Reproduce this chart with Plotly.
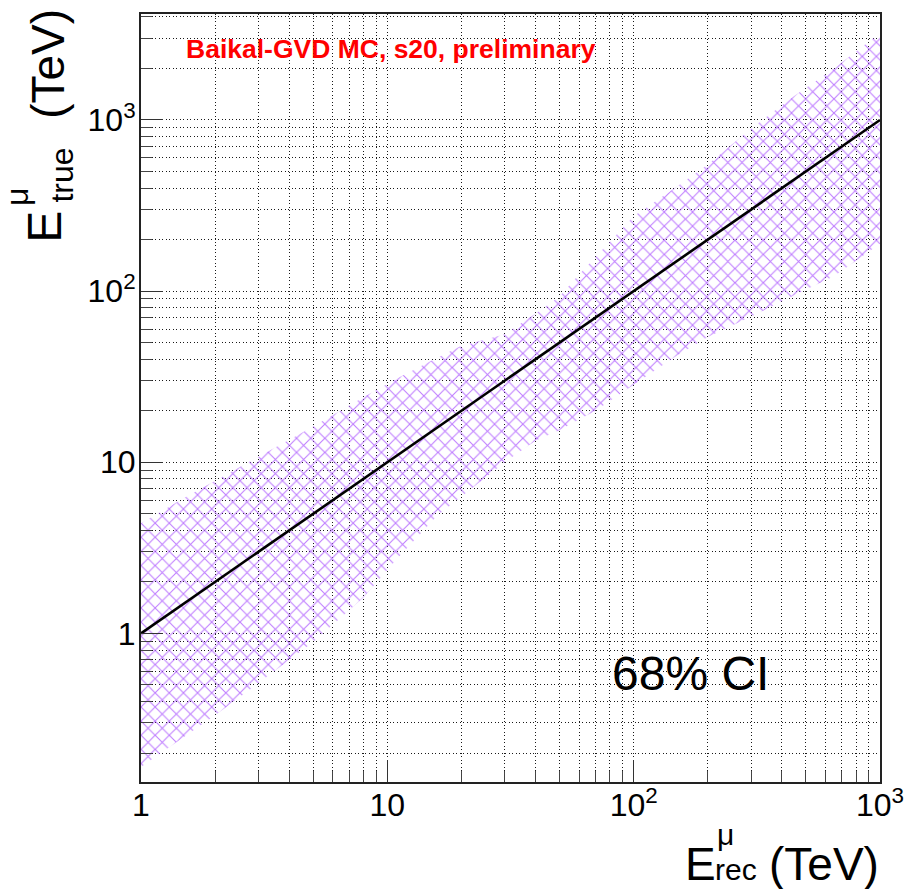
import plotly.graph_objects as go

# ---------------- data ----------------
E_rec = [1, 1.5, 2, 3, 5, 8, 11, 16, 20, 30, 40, 50, 60, 70, 100, 150, 200, 300, 450, 650, 1000]
E_true_hi = [4.4, 6.2, 7.8, 10.8, 16.2, 24, 31, 41, 48, 56, 74, 93, 125, 158, 274, 409, 550, 891, 1387, 1995, 3220]
E_true_lo = [0.166, 0.248, 0.333, 0.513, 0.89, 1.62, 2.75, 4.9, 6.3, 10, 13.4, 15.4, 17.8, 20, 28.4, 42, 54, 71, 95, 122, 189]
line_x = [1, 1000]
line_y = [1, 1000]

tick_vals = [1, 10, 100, 1000]
tick_text = ["1", "10", "10<sup>2</sup>", "10<sup>3</sup>"]
minor_x = [m * d for d in (1, 10, 100) for m in range(2, 10)]
minor_y = [m * d for d in (0.1, 1, 10, 100, 1000) for m in range(2, 10)]

# ---------------- layout geometry ----------------
W, H = 916, 889
L, R, T, B = 141, 29, 13, 107
PW, PH = W - L - R, H - T - B
FONT = "Liberation Sans, Arial, Helvetica, sans-serif"


def pp(px, py):
    return (px - L) / PW, (H - B - py) / PH


fig = go.Figure()

fig.add_trace(go.Scatter(
    x=E_rec, y=E_true_lo, mode="lines", line=dict(width=0, color="rgba(0,0,0,0)"),
    showlegend=False, hoverinfo="skip"))
fig.add_trace(go.Scatter(
    x=E_rec, y=E_true_hi, mode="lines", line=dict(width=0, color="rgba(0,0,0,0)"),
    fill="tonexty", fillcolor="rgba(0,0,0,0)",
    fillpattern=dict(shape="x", fgcolor="rgb(178,100,255)", bgcolor="rgba(0,0,0,0)",
                     fgopacity=0.85, size=10, solidity=0.2),
    showlegend=False, hoverinfo="skip"))
fig.add_trace(go.Scatter(
    x=line_x, y=line_y, mode="lines", line=dict(width=2.6, color="black"),
    showlegend=False))

grid_kw = dict(showgrid=True, gridcolor="rgba(0,0,0,0.9)", gridwidth=1, griddash="1px,2.5px")

fig.update_xaxes(
    type="log", range=[0, 3],
    tickmode="array", tickvals=tick_vals, ticktext=tick_text,
    ticks="inside", ticklen=22, tickwidth=1.2, tickcolor="#333",
    showline=True, mirror=True, linecolor="#222", linewidth=2,
    tickfont=dict(family=FONT, size=32, color="black"),
    ticklabelstandoff=-6,
    minor=dict(tickmode="array", tickvals=minor_x, ticks="inside", ticklen=11,
               tickwidth=1, tickcolor="#444", **grid_kw),
    **grid_kw)
fig.update_yaxes(
    type="log", range=[-0.868, 3.619],
    tickmode="array", tickvals=tick_vals, ticktext=tick_text,
    ticks="inside", ticklen=22, tickwidth=1.2, tickcolor="#333",
    showline=True, mirror=True, linecolor="#222", linewidth=2,
    tickfont=dict(family=FONT, size=32, color="black"),
    ticklabelstandoff=-3,
    minor=dict(tickmode="array", tickvals=minor_y, ticks="inside", ticklen=11,
               tickwidth=1, tickcolor="#444", **grid_kw),
    **grid_kw)

ann = []


def add(text, px, py, size, xa="center", ya="middle", angle=0, color="black"):
    x, y = pp(px, py)
    ann.append(dict(text=text, x=x, y=y, xref="paper", yref="paper", showarrow=False,
                    xanchor=xa, yanchor=ya, textangle=angle,
                    font=dict(family=FONT, size=size, color=color)))


# label and CI text
add("<b>Baikal-GVD MC, s20, preliminary</b>", 184, 48, 26.5, xa="left", color="#ff0000")
add("68% CI", 614, 673, 48, xa="left")

# x-axis title: E^mu_rec (TeV)
add("E", 688, 864, 46, xa="left")
add("μ", 720, 835, 30, xa="left")
add("rec", 718, 870, 30, xa="left")
add("(TeV)", 888, 864, 46, xa="right")

# y-axis title (rotated): E^mu_true (TeV)
add("E", 44, 226, 48, angle=-90)
add("μ", 16, 196, 32, angle=-90)
add("true", 61, 174, 32, angle=-90)
add("(TeV)", 47, 63, 46, angle=-90)

fig.update_layout(
    width=W, height=H,
    margin=dict(l=L, r=R, t=T, b=B, pad=0),
    paper_bgcolor="white", plot_bgcolor="white",
    annotations=ann, showlegend=False,
)

fig.write_html("out.html")
